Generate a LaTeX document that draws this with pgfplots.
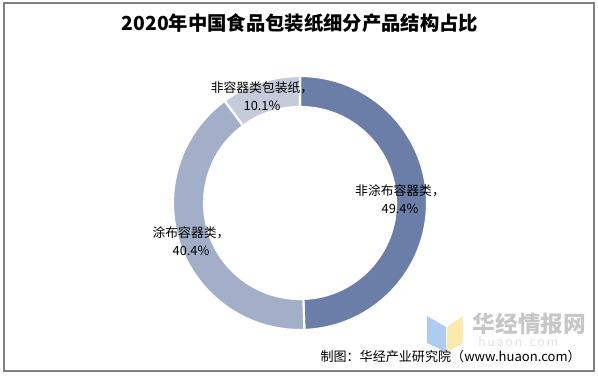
\documentclass[border=0pt]{standalone}
\usepackage{pgfplots}
\pgfplotsset{compat=1.18}
\usepackage{pgfplotstable}
\usepackage{fontspec}
\setmainfont{Noto Sans CJK SC}
\definecolor{segA}{RGB}{106,126,167}
\definecolor{segB}{RGB}{163,175,200}
\definecolor{segC}{RGB}{196,203,218}
\definecolor{frame}{RGB}{128,128,128}
\definecolor{logoblue}{RGB}{160,195,240}
\definecolor{logoyellow}{RGB}{250,230,160}

\pgfplotstableread[col sep=comma]{
name,value,color
Non-coated containers,49.4,segA
Coated containers,40.4,segB
Non-container paper,10.1,segC
}\piedata

\begin{document}
\begin{tikzpicture}
\begin{axis}[
  x=0.75pt, y=0.75pt,
  xmin=0, xmax=598, ymin=0, ymax=375,
  scale only axis, hide axis, clip=false,
]
% page extent and frame
\path (axis cs:0,0) rectangle (axis cs:598,375);
\draw[frame, line width=1.1pt] (axis cs:4,4) rectangle (axis cs:594,372);

% total
\def\total{0}
\pgfplotsforeachungrouped \i in {0,...,2}{%
  \pgfplotstablegetelem{\i}{value}\of\piedata
  \pgfmathsetmacro\total{\total+\pgfplotsretval}%
}
% donut segments, clockwise from the top
\def\astart{90}
\pgfplotsforeachungrouped \i in {0,...,2}{%
  \pgfplotstablegetelem{\i}{value}\of\piedata
  \pgfmathsetmacro\aend{\astart-\pgfplotsretval/\total*360}%
  \pgfplotstablegetelem{\i}{color}\of\piedata
  \let\col\pgfplotsretval
  \edef\temp{\noexpand\filldraw[fill=\col, draw=white, line width=1.6pt, shift={(axis cs:300,172)}]
    (\astart:95.25pt) arc[start angle=\astart, end angle=\aend, radius=95.25pt]
    -- (\aend:72pt) arc[start angle=\aend, end angle=\astart, radius=72pt] -- cycle;}%
  \temp
  \let\astart\aend
}

% title
\node[font=\fontsize{14.5}{16}\selectfont\bfseries] at (axis cs:300,352) {2020年中国食品包装纸细分产品结构占比};

% labels
\node[align=center, font=\fontsize{9.6}{13.5}\selectfont] at (axis cs:262,279) {非容器类包装纸，\\10.1\%};
\node[align=center, font=\fontsize{9.6}{13.5}\selectfont] at (axis cs:400,176) {非涂布容器类，\\49.4\%};
\node[align=center, font=\fontsize{9.6}{13.5}\selectfont] at (axis cs:191,134) {涂布容器类，\\40.4\%};

% watermark
\fill[logoblue, opacity=0.85] (axis cs:427,59) -- (axis cs:446,48) -- (axis cs:446,23) -- (axis cs:427,32) -- cycle;
\fill[logoyellow, opacity=0.85] (axis cs:447,48) -- (axis cs:463,59) -- (axis cs:463,32) -- (axis cs:447,23) -- cycle;
\node[anchor=west, text=black!22, font=\fontsize{17}{18}\selectfont\bfseries] at (axis cs:468,51) {华经情报网};
\node[anchor=west, text=black!12, font=\fontsize{9}{10}\selectfont, inner sep=0pt] at (axis cs:478,33) {h\,u\,a\,o\,n\,.\,c\,o\,m};

% source
\node[anchor=east, font=\fontsize{9.8}{12}\selectfont, inner sep=0pt] at (axis cs:581,18) {制图：华经产业研究院（www.huaon.com）};
\end{axis}
\end{tikzpicture}
\end{document}
